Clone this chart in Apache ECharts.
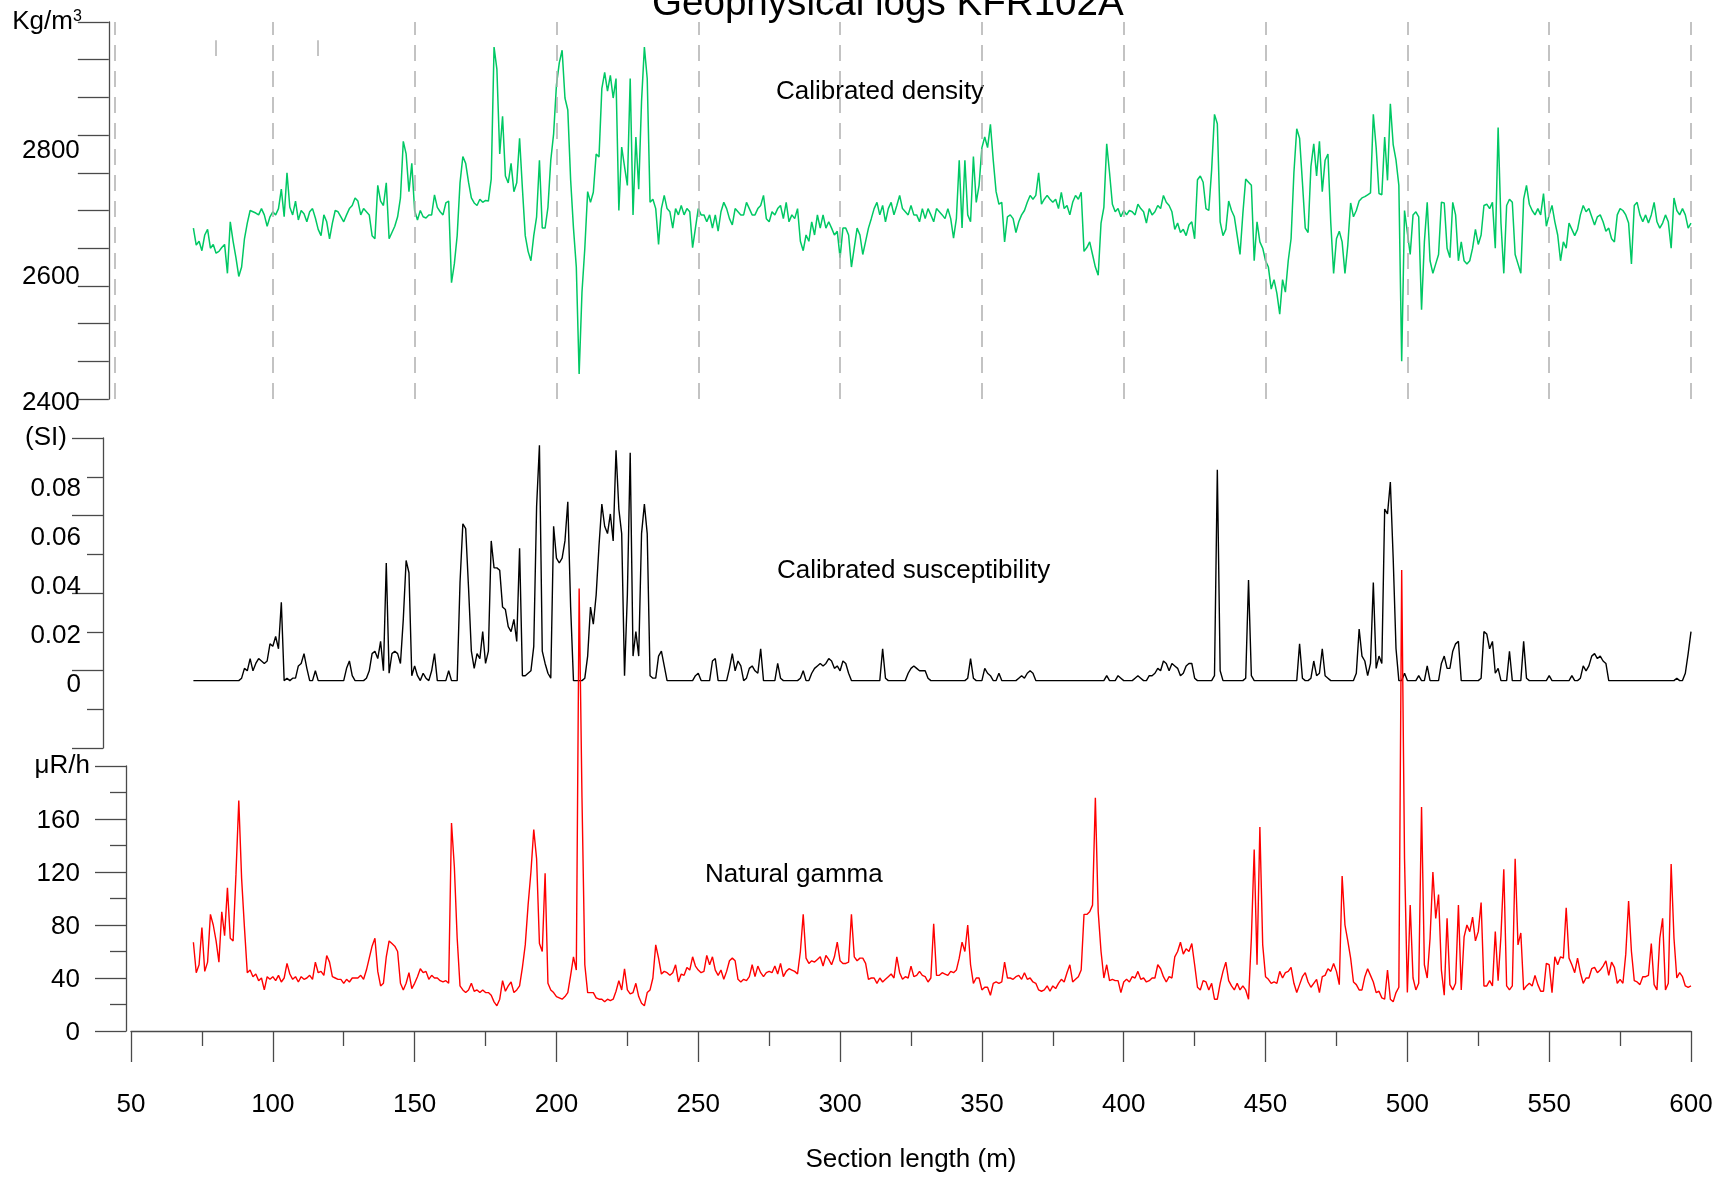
<!DOCTYPE html>
<html>
<head>
<meta charset="utf-8">
<title>Geophysical logs KFR102A</title>
<script src="https://cdn.jsdelivr.net/npm/echarts@6/dist/echarts.min.js"></script>
<style>
  html, body { margin: 0; padding: 0; background: #fff; }
  #chart { width: 1724px; height: 1180px; }
</style>
</head>
<body>
<div id="chart"></div>
<script>
// section length (m): one sample per metre, 72 .. 600
const depthFirst = 72
const depthLast = 600

// calibrated density, kg/m3 (rows of 10, first depth of the row in the comment)
const density = [
  2672, 2645, 2651, 2636, 2661, 2670, 2640, 2646, 2632, 2635, // 72
  2641, 2646, 2600, 2682, 2651, 2625, 2595, 2610, 2655, 2680, // 82
  2700, 2698, 2696, 2693, 2703, 2693, 2675, 2690, 2698, 2693, // 92
  2703, 2734, 2690, 2760, 2705, 2693, 2715, 2685, 2700, 2695, // 102
  2682, 2698, 2703, 2688, 2670, 2660, 2693, 2682, 2655, 2680, // 112
  2700, 2698, 2690, 2682, 2693, 2703, 2708, 2720, 2715, 2693, // 122
  2703, 2698, 2693, 2660, 2655, 2740, 2715, 2708, 2744, 2655, // 132
  2665, 2675, 2690, 2720, 2810, 2790, 2730, 2775, 2700, 2685, // 142
  2700, 2690, 2688, 2693, 2693, 2725, 2705, 2698, 2693, 2712, // 152
  2715, 2585, 2615, 2660, 2744, 2786, 2775, 2745, 2720, 2712, // 162
  2708, 2718, 2713, 2716, 2715, 2750, 2960, 2925, 2790, 2850, // 172
  2755, 2744, 2775, 2730, 2744, 2815, 2735, 2660, 2635, 2620, // 182
  2660, 2690, 2780, 2672, 2672, 2705, 2780, 2822, 2900, 2935, // 192
  2955, 2879, 2860, 2749, 2672, 2610, 2440, 2570, 2640, 2730, // 202
  2713, 2729, 2790, 2785, 2894, 2920, 2890, 2915, 2879, 2910, // 212
  2700, 2801, 2770, 2740, 2910, 2693, 2817, 2734, 2874, 2960, // 222
  2910, 2713, 2718, 2703, 2646, 2703, 2724, 2703, 2698, 2672, // 232
  2703, 2693, 2708, 2693, 2703, 2698, 2641, 2672, 2703, 2693, // 242
  2693, 2682, 2693, 2672, 2693, 2667, 2698, 2713, 2703, 2687, // 252
  2677, 2703, 2698, 2693, 2693, 2713, 2703, 2693, 2693, 2703, // 262
  2708, 2724, 2687, 2682, 2698, 2693, 2703, 2708, 2687, 2713, // 272
  2682, 2693, 2687, 2703, 2651, 2636, 2661, 2651, 2682, 2661, // 282
  2693, 2672, 2693, 2672, 2682, 2672, 2661, 2667, 2625, 2672, // 292
  2672, 2661, 2610, 2641, 2672, 2661, 2630, 2651, 2672, 2687, // 302
  2703, 2713, 2693, 2708, 2682, 2703, 2713, 2693, 2708, 2724, // 312
  2703, 2698, 2693, 2708, 2693, 2693, 2682, 2703, 2687, 2703, // 322
  2693, 2682, 2703, 2698, 2693, 2687, 2703, 2687, 2656, 2687, // 332
  2780, 2672, 2780, 2693, 2682, 2786, 2713, 2740, 2800, 2817, // 342
  2800, 2837, 2780, 2730, 2710, 2713, 2650, 2690, 2693, 2687, // 352
  2665, 2682, 2693, 2700, 2713, 2724, 2718, 2724, 2760, 2710, // 362
  2718, 2724, 2718, 2713, 2718, 2703, 2729, 2703, 2708, 2693, // 372
  2713, 2724, 2718, 2729, 2635, 2641, 2650, 2630, 2610, 2597, // 382
  2680, 2705, 2806, 2760, 2710, 2698, 2703, 2690, 2700, 2693, // 392
  2700, 2698, 2693, 2710, 2703, 2698, 2680, 2703, 2693, 2698, // 402
  2708, 2703, 2724, 2713, 2708, 2698, 2670, 2680, 2665, 2670, // 412
  2660, 2677, 2682, 2655, 2749, 2755, 2745, 2703, 2700, 2765, // 422
  2853, 2838, 2682, 2660, 2670, 2715, 2700, 2690, 2660, 2630, // 432
  2695, 2750, 2745, 2740, 2620, 2682, 2650, 2640, 2620, 2610, // 442
  2575, 2590, 2568, 2535, 2590, 2570, 2620, 2655, 2760, 2830, // 452
  2815, 2745, 2672, 2665, 2770, 2806, 2755, 2810, 2730, 2780, // 462
  2790, 2680, 2600, 2655, 2667, 2650, 2600, 2645, 2712, 2690, // 472
  2700, 2715, 2720, 2722, 2725, 2728, 2853, 2800, 2727, 2725, // 482
  2817, 2748, 2870, 2805, 2780, 2740, 2460, 2700, 2665, 2630, // 492
  2693, 2698, 2690, 2542, 2650, 2713, 2620, 2600, 2615, 2630, // 502
  2713, 2712, 2640, 2625, 2713, 2693, 2620, 2650, 2620, 2615, // 512
  2620, 2640, 2670, 2646, 2661, 2708, 2710, 2703, 2713, 2640, // 522
  2832, 2680, 2600, 2708, 2718, 2713, 2630, 2615, 2600, 2718, // 532
  2740, 2710, 2700, 2693, 2703, 2693, 2727, 2675, 2693, 2708, // 542
  2682, 2661, 2620, 2650, 2640, 2680, 2670, 2660, 2670, 2693, // 552
  2708, 2698, 2703, 2690, 2677, 2690, 2693, 2682, 2667, 2672, // 562
  2655, 2650, 2693, 2703, 2700, 2693, 2680, 2615, 2708, 2713, // 572
  2693, 2682, 2693, 2680, 2693, 2713, 2682, 2672, 2680, 2693, // 582
  2682, 2640, 2720, 2700, 2693, 2703, 2693, 2672, 2680        // 592
]

// calibrated susceptibility, SI
const susceptibility = [
  0, 0, 0, 0, 0, 0, 0, 0, 0, 0, // 72
  0, 0, 0, 0, 0, 0, 0, 0.001, 0.005, 0.004, // 82
  0.009, 0.004, 0.007, 0.009, 0.008, 0.007, 0.008, 0.015, 0.014, 0.018, // 92
  0.013, 0.032, 0, 0.001, 0, 0.001, 0.001, 0.006, 0.007, 0.011, // 102
  0.005, 0, 0, 0.004, 0, 0, 0, 0, 0, 0, // 112
  0, 0, 0, 0, 0.005, 0.008, 0.002, 0, 0, 0, // 122
  0, 0.001, 0.004, 0.011, 0.012, 0.009, 0.016, 0.004, 0.048, 0.003, // 132
  0.011, 0.012, 0.011, 0.007, 0.025, 0.049, 0.044, 0.002, 0.006, 0.002, // 142
  0, 0.003, 0.001, 0, 0.004, 0.011, 0, 0, 0, 0, // 152
  0.004, 0, 0, 0, 0.04, 0.064, 0.062, 0.038, 0.012, 0.005, // 162
  0.011, 0.009, 0.02, 0.007, 0.012, 0.057, 0.046, 0.046, 0.045, 0.03, // 172
  0.029, 0.022, 0.02, 0.025, 0.016, 0.054, 0.002, 0.002, 0.003, 0.004, // 182
  0.014, 0.071, 0.096, 0.012, 0.007, 0.003, 0.001, 0.063, 0.05, 0.048, // 192
  0.05, 0.057, 0.073, 0.03, 0, 0, 0, 0, 0.001, 0.01, // 202
  0.03, 0.023, 0.035, 0.055, 0.072, 0.063, 0.06, 0.068, 0.057, 0.094, // 212
  0.07, 0.06, 0.002, 0.035, 0.093, 0.01, 0.02, 0.01, 0.06, 0.072, // 222
  0.06, 0.002, 0.001, 0.001, 0.01, 0.012, 0.006, 0, 0, 0, // 232
  0, 0, 0, 0, 0, 0, 0, 0.002, 0.003, 0, // 242
  0, 0, 0, 0.008, 0.009, 0, 0, 0, 0, 0.005, // 252
  0.011, 0.004, 0.008, 0.006, 0, 0.001, 0.005, 0.006, 0.004, 0.003, // 262
  0.013, 0, 0, 0, 0, 0, 0.007, 0.001, 0, 0, // 272
  0, 0, 0, 0, 0.001, 0.004, 0, 0, 0.003, 0.005, // 282
  0.006, 0.007, 0.006, 0.007, 0.009, 0.008, 0.005, 0.006, 0.004, 0.008, // 292
  0.007, 0.003, 0, 0, 0, 0, 0, 0, 0, 0, // 302
  0, 0, 0, 0.013, 0.001, 0, 0, 0, 0, 0, // 312
  0, 0, 0.003, 0.005, 0.006, 0.005, 0.004, 0.004, 0.004, 0.001, // 322
  0, 0, 0, 0, 0, 0, 0, 0, 0, 0, // 332
  0, 0, 0, 0.001, 0.009, 0.001, 0, 0, 0, 0.005, // 342
  0.003, 0.002, 0, 0, 0.003, 0, 0, 0, 0, 0, // 352
  0, 0.001, 0.002, 0.001, 0.003, 0.004, 0.003, 0, 0, 0, // 362
  0, 0, 0, 0, 0, 0, 0, 0, 0, 0, // 372
  0, 0, 0, 0, 0, 0, 0, 0, 0, 0, // 382
  0, 0, 0.002, 0, 0, 0, 0.002, 0.001, 0, 0, // 392
  0, 0, 0.001, 0.002, 0.001, 0, 0, 0.002, 0.002, 0.003, // 402
  0.005, 0.004, 0.008, 0.007, 0.004, 0.007, 0.006, 0.005, 0.002, 0.003, // 412
  0.006, 0.007, 0.007, 0.001, 0, 0, 0, 0, 0, 0, // 422
  0.002, 0.086, 0.004, 0, 0, 0, 0, 0, 0, 0, // 432
  0, 0.001, 0.041, 0.002, 0, 0, 0, 0, 0, 0, // 442
  0, 0, 0, 0, 0, 0, 0, 0, 0, 0, // 452
  0.015, 0.001, 0, 0, 0.001, 0.008, 0.002, 0.003, 0.013, 0.002, // 462
  0.001, 0, 0, 0, 0, 0, 0, 0, 0, 0, // 472
  0.003, 0.021, 0.01, 0.008, 0.002, 0.007, 0.04, 0.005, 0.01, 0.007, // 482
  0.07, 0.068, 0.081, 0.05, 0.013, 0, 0, 0.003, 0, 0, // 492
  0, 0, 0.002, 0, 0, 0.006, 0, 0, 0, 0, // 502
  0.007, 0.01, 0.005, 0.005, 0.012, 0.015, 0.016, 0, 0, 0, // 512
  0, 0, 0, 0, 0.001, 0.02, 0.019, 0.013, 0.016, 0.003, // 522
  0.005, 0, 0, 0, 0.012, 0, 0, 0, 0, 0.016, // 532
  0.001, 0, 0, 0, 0, 0, 0, 0, 0.002, 0, // 542
  0, 0, 0, 0, 0, 0, 0.002, 0, 0, 0.001, // 552
  0.006, 0.004, 0.006, 0.01, 0.011, 0.009, 0.01, 0.008, 0.007, 0, // 562
  0, 0, 0, 0, 0, 0, 0, 0, 0, 0, // 572
  0, 0, 0, 0, 0, 0, 0, 0, 0, 0, // 582
  0, 0, 0, 0.001, 0, 0, 0.003, 0.011, 0.02 // 592
]

// natural gamma, uR/h
const gamma = [
  67, 44, 50, 78, 45, 52, 88, 80, 68, 52, // 72
  90, 72, 108, 70, 68, 118, 174, 115, 78, 44, // 82
  46, 41, 43, 38, 40, 31, 41, 39, 41, 38, // 92
  42, 37, 40, 51, 43, 39, 41, 37, 41, 39, // 102
  40, 42, 39, 52, 44, 45, 42, 57, 52, 41, // 112
  40, 39, 39, 36, 39, 37, 40, 40, 40, 42, // 122
  39, 46, 55, 64, 70, 45, 34, 36, 56, 68, // 132
  66, 64, 60, 36, 31, 36, 44, 32, 36, 41, // 142
  47, 44, 45, 39, 42, 40, 40, 38, 37, 38, // 152
  36, 157, 124, 70, 34, 31, 29, 31, 36, 30, // 162
  31, 29, 31, 29, 29, 27, 22, 19, 24, 38, // 172
  30, 34, 37, 29, 31, 34, 48, 65, 95, 120, // 182
  152, 130, 66, 60, 119, 36, 31, 29, 26, 25, // 192
  24, 26, 29, 42, 56, 46, 334, 176, 50, 29, // 202
  29, 29, 25, 24, 24, 22, 24, 23, 24, 30, // 212
  38, 31, 47, 31, 28, 29, 36, 26, 21, 19, // 222
  29, 31, 40, 65, 55, 43, 45, 44, 42, 44, // 232
  50, 37, 43, 42, 48, 46, 56, 49, 46, 44, // 242
  45, 57, 50, 56, 46, 42, 46, 39, 45, 53, // 252
  55, 53, 39, 37, 39, 38, 41, 50, 41, 49, // 262
  44, 41, 44, 45, 44, 49, 43, 51, 41, 45, // 272
  47, 46, 45, 43, 60, 88, 55, 51, 53, 52, // 282
  54, 56, 49, 57, 54, 50, 56, 67, 53, 51, // 292
  51, 52, 88, 56, 53, 55, 55, 51, 39, 40, // 302
  40, 36, 40, 37, 39, 41, 43, 40, 56, 44, // 312
  39, 41, 40, 49, 41, 42, 45, 42, 41, 37, // 322
  40, 81, 42, 42, 44, 43, 42, 45, 44, 46, // 332
  55, 67, 60, 80, 50, 36, 40, 40, 31, 33, // 342
  33, 27, 36, 37, 36, 37, 52, 40, 40, 39, // 352
  41, 42, 39, 44, 39, 40, 37, 36, 31, 30, // 362
  31, 34, 30, 34, 32, 36, 39, 37, 44, 50, // 372
  37, 39, 41, 46, 88, 88, 90, 95, 176, 90, // 382
  60, 40, 50, 38, 39, 38, 38, 29, 37, 39, // 392
  37, 41, 40, 45, 39, 40, 37, 38, 40, 40, // 402
  50, 47, 41, 37, 41, 40, 56, 60, 67, 58, // 412
  62, 60, 66, 50, 33, 31, 38, 37, 31, 36, // 422
  24, 24, 36, 45, 52, 38, 34, 31, 36, 31, // 432
  34, 31, 24, 70, 137, 50, 154, 65, 41, 39, // 442
  36, 37, 36, 45, 40, 44, 45, 48, 36, 29, // 452
  35, 41, 44, 37, 33, 36, 39, 29, 41, 42, // 462
  47, 45, 51, 45, 35, 117, 80, 68, 55, 37, // 472
  35, 31, 31, 41, 47, 42, 37, 29, 30, 25, // 482
  24, 46, 24, 22, 29, 33, 348, 130, 29, 95, // 492
  40, 31, 36, 169, 50, 40, 70, 120, 85, 103, // 502
  46, 27, 85, 35, 31, 36, 95, 31, 71, 80, // 512
  75, 86, 68, 75, 97, 34, 34, 38, 34, 75, // 522
  38, 72, 122, 34, 31, 34, 130, 65, 74, 31, // 532
  34, 36, 34, 42, 35, 30, 30, 51, 50, 29, // 542
  56, 50, 56, 55, 93, 55, 50, 44, 55, 44, // 552
  36, 40, 40, 47, 48, 44, 46, 49, 53, 42, // 562
  52, 48, 36, 39, 36, 58, 98, 60, 38, 37, // 572
  35, 41, 41, 42, 66, 35, 31, 70, 85, 31, // 582
  36, 126, 70, 40, 44, 41, 34, 33, 34 // 592
]

// dashed reference lines on the density panel (m)
const gridLines = [44.3, 100, 150, 200, 250, 300, 350, 400, 450, 500, 550, 600]
const shortMarks = [80, 116]

const densityLabels = [2400, 2600, 2800]
const susLabels = [0, 0.02, 0.04, 0.06, 0.08]
const gammaLabels = [0, 40, 80, 120, 160]

const FONT = '"Liberation Sans", Arial, Helvetica, sans-serif'
const AXIS_COLOR = '#4a4a4a'

const depth = []
for (let d = depthFirst; d <= depthLast; d++) depth.push(d)
const pairs = (vals) => vals.map((v, i) => [depth[i], v])

const susMin = -0.0275, susMax = 0.099

// labels sit a few pixels below their value in the original; a rich token with top padding does that
function yAxisBase(grid, offset, margin, shift, fmt) {
  return {
    type: 'value',
    gridIndex: grid,
    offset: offset,
    nameLocation: 'end',
    nameGap: 0,
    axisLine: { show: true, lineStyle: { color: AXIS_COLOR, width: 1.3 } },
    axisTick: { show: true, length: 31, lineStyle: { color: AXIS_COLOR, width: 1.3 } },
    axisLabel: {
      margin: margin, color: '#000', fontSize: 26, fontFamily: FONT,
      formatter: v => '{v|' + fmt(v) + '}',
      rich: { v: { fontSize: 26, fontFamily: FONT, color: '#000', padding: [shift, 0, 0, 0] } }
    },
    splitLine: { show: false }
  }
}

const chart = echarts.init(document.getElementById('chart'), null, { renderer: 'canvas' })

let option = {
  animation: false,
  backgroundColor: '#fff',
  textStyle: { fontFamily: FONT },
  title: {
    text: 'Geophysical logs KFR102A',
    left: 652,
    top: -15,
    padding: 0,
    textStyle: { fontSize: 38.6, fontWeight: 'normal', color: '#000', fontFamily: FONT }
  },
  graphic: [
    { type: 'text', x: 776, y: 92, style: { text: 'Calibrated density', fill: '#000', font: '26px ' + FONT, verticalAlign: 'middle' } },
    { type: 'text', x: 777, y: 571, style: { text: 'Calibrated susceptibility', fill: '#000', font: '26px ' + FONT, verticalAlign: 'middle' } },
    { type: 'text', x: 705, y: 875, style: { text: 'Natural gamma', fill: '#000', font: '26px ' + FONT, verticalAlign: 'middle' } }
  ],
  grid: [
    { left: 114.83, right: 33, top: 22, height: 377 },
    { left: 131, right: 33, top: 438, height: 310 },
    { left: 131, right: 33, top: 766, height: 265 }
  ],
  xAxis: [
    { type: 'value', gridIndex: 0, min: 44.3, max: 600, show: false },
    { type: 'value', gridIndex: 1, min: 50, max: 600, show: false },
    {
      type: 'value', gridIndex: 2, min: 50, max: 600, interval: 50, offset: 10,
      name: 'Section length (m)', nameLocation: 'middle', nameGap: 106,
      nameTextStyle: { fontSize: 26, color: '#000', fontFamily: FONT },
      axisLine: { show: true, lineStyle: { color: AXIS_COLOR, width: 1.3 } },
      axisTick: { show: true, length: 31, lineStyle: { color: AXIS_COLOR, width: 1.3 } },
      minorTick: { show: true, splitNumber: 2, length: 15, lineStyle: { color: AXIS_COLOR, width: 1.3 } },
      axisLabel: { margin: 51, color: '#000', fontSize: 26, fontFamily: FONT },
      splitLine: { show: false }
    }
  ],
  yAxis: [
    Object.assign(yAxisBase(0, 6, 29, 7, v => String(v)), {
      min: 2400, max: 3000, interval: 60,
      name: 'Kg/m{sup|3}',
      nameTextStyle: {
        fontSize: 26, color: '#000', fontFamily: FONT, align: 'right', verticalAlign: 'middle',
        padding: [0, 27, 0, 0],
        rich: { sup: { fontSize: 16, verticalAlign: 'top', color: '#000', fontFamily: FONT } }
      }
    }),
    Object.assign(yAxisBase(1, 28, 22, 9, v => (v === 0 ? '0' : v.toFixed(2))), {
      min: susMin, max: susMax, interval: (susMax - susMin) / 4,
      name: '(SI)',
      nameTextStyle: { fontSize: 26, color: '#000', fontFamily: FONT, align: 'right', verticalAlign: 'middle', padding: [0, 36, 0, 0] },
      minorTick: { show: true, splitNumber: 2, length: 16, lineStyle: { color: AXIS_COLOR, width: 1.3 } }
    }),
    Object.assign(yAxisBase(2, 5, 46, 4, v => String(v)), {
      min: 0, max: 200, interval: 40,
      name: 'μR/h',
      nameTextStyle: { fontSize: 26, color: '#000', fontFamily: FONT, align: 'right', verticalAlign: 'middle', padding: [0, 36, 0, 0] },
      minorTick: { show: true, splitNumber: 2, length: 16, lineStyle: { color: AXIS_COLOR, width: 1.3 } }
    })
  ],
  series: [
    {
      name: 'Calibrated density', type: 'line', xAxisIndex: 0, yAxisIndex: 0,
      data: pairs(density), showSymbol: false, clip: false,
      lineStyle: { color: '#00c864', width: 1.5 },
      markLine: {
        silent: true, symbol: 'none', label: { show: false },
        lineStyle: { color: '#b0b0b0', width: 1.5, type: [16, 10] },
        data: gridLines.map(x => ({ xAxis: x })).concat(
          shortMarks.map(x => [{ coord: [x, 2971] }, { coord: [x, 2946] }]))
      },
      z: 3
    },
    {
      name: 'Calibrated susceptibility', type: 'line', xAxisIndex: 1, yAxisIndex: 1,
      data: pairs(susceptibility), showSymbol: false,
      lineStyle: { color: '#000', width: 1.4 }
    },
    {
      name: 'Natural gamma', type: 'line', xAxisIndex: 2, yAxisIndex: 2,
      data: pairs(gamma), showSymbol: false, clip: false,
      lineStyle: { color: '#ff0000', width: 1.4 },
      z: 4
    }
  ]
}

// label positions that do not fall on the tick grid
option.yAxis[0].axisLabel.customValues = densityLabels
option.yAxis[1].axisLabel.customValues = susLabels
option.yAxis[2].axisLabel.customValues = gammaLabels

if (density.length !== depth.length || susceptibility.length !== depth.length || gamma.length !== depth.length) {
  console.error('length mismatch', depth.length, density.length, susceptibility.length, gamma.length)
}

chart.setOption(option)
</script>
</body>
</html>
